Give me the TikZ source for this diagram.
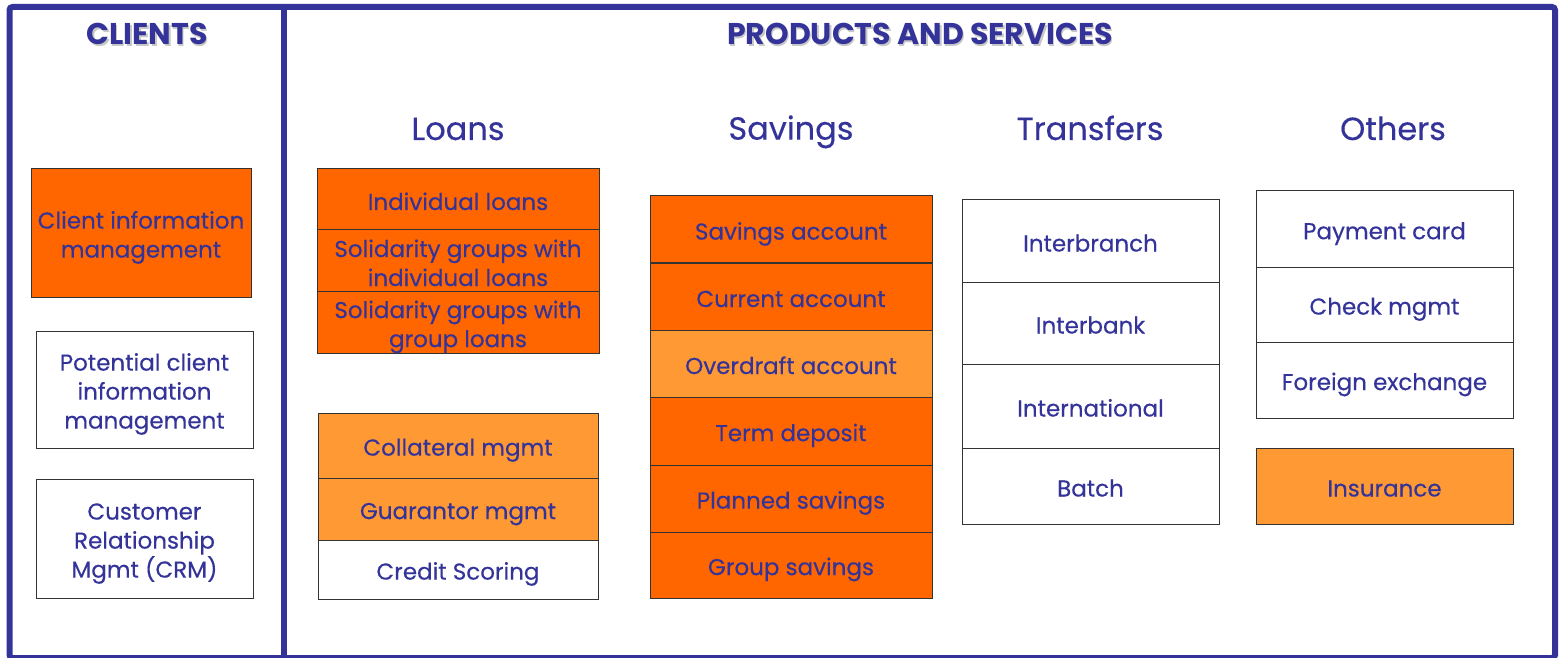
\documentclass[tikz,border=0pt]{standalone}
\usepackage{fontspec}
\setmainfont{Poppins}[UprightFeatures={FakeBold=0.3}]
\definecolor{navy}{HTML}{333399}
\definecolor{dorange}{HTML}{FF6600}
\definecolor{lorange}{HTML}{FF9933}
\definecolor{edge}{HTML}{333333}
\definecolor{shade}{HTML}{C8C8C8}
\newcommand\st{\rule[-2.7pt]{0pt}{15.9pt}}
\newcommand\hst{\rule[-4pt]{0pt}{19pt}}
\tikzset{
  box/.style={draw=edge, line width=0.5pt, inner sep=0pt, align=center, text=navy,
    font={\fontsize{11.5}{14.5}\selectfont\lineskiplimit=-20pt\lineskip=0pt}},
  dark/.style={fill=dorange},
  light/.style={fill=lorange},
  plain/.style={fill=white},
  colhead/.style={text=navy, inner sep=0pt, font=\fontsize{16}{19}\selectfont},
  mainhead/.style={text=navy, inner sep=0pt, font=\fontsize{15}{18}\selectfont\bfseries},
  shadowhead/.style={text=shade, inner sep=0pt, font=\fontsize{15}{18}\selectfont\bfseries},
  frame/.style={draw=navy, line width=3pt}
}
\newcommand\bx[7]{\node[box,#6,minimum width={(#4-#2)*0.5pt},minimum height={(#5-#3)*0.5pt}] (#1) at ({(#2+#4)/2},{(#3+#5)/2}) {#7};}
\begin{document}
\begin{tikzpicture}[x=0.5pt,y=-0.5pt]
\useasboundingbox (0,0) rectangle (1560,658);
\fill[white] (0,0) rectangle (1560,658);
% frame
\coordinate (ftl) at (9.5,7);
\coordinate (fbr) at (1555,658);
\coordinate (dt) at (284,7);
\coordinate (db) at (284,658);
\draw[frame, rounded corners=1.5pt] (ftl) rectangle (fbr);
\draw[frame] (dt) -- (db);
% headings
\node[shadowhead] (clientsS) at (148.5,35.5) {CLIENTS};
\node[mainhead] (clients) at (147,34) {CLIENTS};
\node[shadowhead] (prodS) at (921.5,35.5) {PRODUCTS AND SERVICES};
\node[mainhead] (prod) at (920,34) {PRODUCTS AND SERVICES};
\node[colhead] (hloans) at (458,129) {\hst Loans};
\node[colhead] (hsav) at (791,129) {\hst Savings};
\node[colhead] (htrans) at (1090,129) {\hst Transfers};
\node[colhead] (hoth) at (1393,129) {\hst Others};
% clients
\bx{c1}{31}{169}{251}{297}{dark}{\st Client information\\\st management}
\bx{c2}{36}{331}{253}{448}{plain}{\st Potential client\\\st information\\\st management}
\bx{c3}{36}{479}{253}{598}{plain}{\st Customer\\\st Relationship\\\st Mgmt (CRM)}
% loans
\bx{l1}{317}{169}{599}{230}{dark}{\st Individual loans}
\bx{l2}{317}{230}{599}{292}{dark}{\st Solidarity groups with\\\st individual loans}
\bx{l3}{317}{292}{599}{353}{dark}{\st Solidarity groups with\\\st group loans}
\bx{l4}{318}{413}{598}{478}{light}{\st Collateral mgmt}
\bx{l5}{318}{478}{598}{540}{light}{\st Guarantor mgmt}
\bx{l6}{318}{540}{598}{599}{plain}{\st Credit Scoring}
% savings
\bx{s1}{650}{196}{932}{263}{dark}{\st Savings account}
\bx{s2}{650}{263}{932}{330}{dark}{\st Current account}
\bx{s3}{650}{330}{932}{397}{light}{\st Overdraft account}
\bx{s4}{650}{397}{932}{465}{dark}{\st Term deposit}
\bx{s5}{650}{465}{932}{532}{dark}{\st Planned savings}
\bx{s6}{650}{532}{932}{598}{dark}{\st Group savings}
% transfers
\bx{t1}{962}{200}{1219}{282}{plain}{\st Interbranch}
\bx{t2}{962}{282}{1219}{364}{plain}{\st Interbank}
\bx{t3}{962}{364}{1219}{448}{plain}{\st International}
\bx{t4}{962}{448}{1219}{524}{plain}{\st Batch}
% others
\bx{o1}{1256}{191}{1513}{267}{plain}{\st Payment card}
\bx{o2}{1256}{267}{1513}{342}{plain}{\st Check mgmt}
\bx{o3}{1256}{342}{1513}{418}{plain}{\st Foreign exchange}
\bx{o4}{1256}{448}{1513}{524}{light}{\st Insurance}
\end{tikzpicture}
\end{document}
